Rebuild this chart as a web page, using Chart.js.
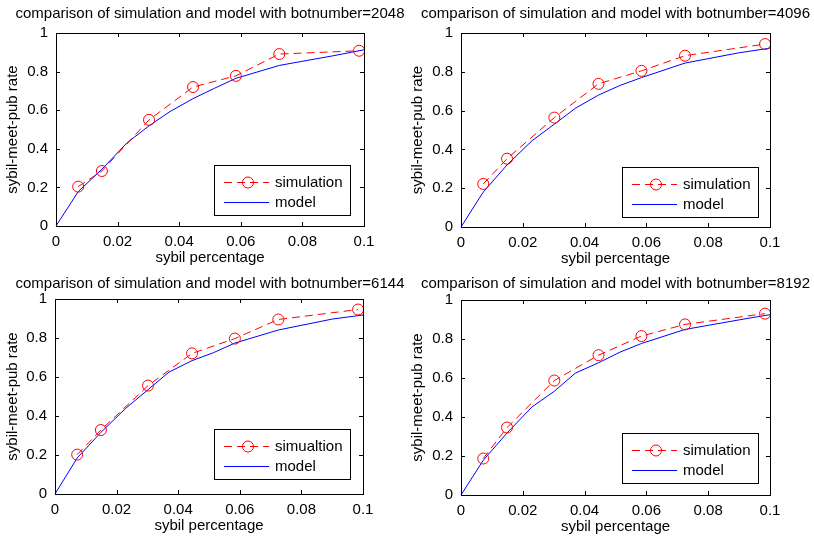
<!DOCTYPE html>
<html>
<head>
<meta charset="utf-8">
<script src="https://cdn.jsdelivr.net/npm/chart.js@4.4.1/dist/chart.umd.min.js"></script>
<style>
  body { margin: 0; background: #fff; }
  #wrap { position: relative; width: 814px; height: 536px; overflow: hidden; background: #fff; }
  #wrap canvas { position: absolute; }
</style>
</head>
<body>
<div id="wrap">
  <canvas id="c2048" width="420" height="268" style="left:0;top:0"></canvas>
  <canvas id="c4096" width="421" height="268" style="left:405px;top:0"></canvas>
  <canvas id="c6144" width="420" height="270" style="left:0;top:266px"></canvas>
  <canvas id="c8192" width="421" height="270" style="left:405px;top:266px"></canvas>
</div>
<script>
// axis ticks
const xTicks = [0, 0.02, 0.04, 0.06, 0.08, 0.1];
const xTickLabels = ['0', '0.02', '0.04', '0.06', '0.08', '0.1'];
const yTicks = [0, 0.2, 0.4, 0.6, 0.8, 1];
const yTickLabels = ['0', '0.2', '0.4', '0.6', '0.8', '1'];

// simulation runs (circles)
const simX = [0.0072, 0.0149, 0.0302, 0.0445, 0.0584, 0.0725, 0.0984];
const sim2048 = [0.204, 0.285, 0.550, 0.720, 0.778, 0.891, 0.908];
const sim4096 = [0.222, 0.352, 0.564, 0.738, 0.805, 0.883, 0.943];
const sim6144 = [0.202, 0.328, 0.556, 0.721, 0.797, 0.895, 0.946];
const sim8192 = [0.187, 0.346, 0.587, 0.717, 0.815, 0.875, 0.930];

// analytic model
const modelX = [0, 0.0072, 0.0149, 0.023, 0.0302, 0.037, 0.0445, 0.0515, 0.0584, 0.0725, 0.09, 0.1];
const model2048 = [0, 0.178, 0.294, 0.430, 0.519, 0.593, 0.660, 0.714, 0.765, 0.832, 0.882, 0.913];
const model4096 = [0, 0.180, 0.320, 0.445, 0.530, 0.612, 0.680, 0.730, 0.770, 0.845, 0.898, 0.922];
const model6144 = [0, 0.185, 0.316, 0.440, 0.535, 0.625, 0.684, 0.725, 0.774, 0.841, 0.897, 0.918];
const model8192 = [0, 0.178, 0.318, 0.452, 0.532, 0.625, 0.678, 0.733, 0.777, 0.849, 0.898, 0.925];

const botNumbers = [2048, 4096, 6144, 8192];
const simNames = ['simulation', 'simulation', 'simualtion', 'simulation'];
const simSeries = [sim2048, sim4096, sim6144, sim8192];
const modelSeries = [model2048, model4096, model6144, model8192];

Chart.defaults.font.family = '"Liberation Sans", Arial, Helvetica, sans-serif';
Chart.defaults.font.size = 15;
Chart.defaults.color = '#000';

const FONT = '15px "Liberation Sans", Arial, Helvetica, sans-serif';

// box around the axes with inward tick marks on all four sides
const frame = {
  id: 'frame',
  afterDatasetsDraw(chart) {
    const {ctx, chartArea: a, scales: {x, y}} = chart;
    const len = 4;
    ctx.save();
    ctx.strokeStyle = '#000';
    ctx.lineWidth = 1;
    ctx.beginPath();
    x.ticks.forEach(t => {
      const px = Math.round(x.getPixelForValue(t.value)) + 0.5;
      ctx.moveTo(px, a.bottom); ctx.lineTo(px, a.bottom - len);
      ctx.moveTo(px, a.top); ctx.lineTo(px, a.top + len);
    });
    y.ticks.forEach(t => {
      const py = Math.round(y.getPixelForValue(t.value)) + 0.5;
      ctx.moveTo(a.left, py); ctx.lineTo(a.left + len, py);
      ctx.moveTo(a.right, py); ctx.lineTo(a.right - len, py);
    });
    ctx.stroke();
    ctx.strokeRect(Math.round(a.left) + 0.5, Math.round(a.top) + 0.5,
      Math.round(a.right - a.left), Math.round(a.bottom - a.top));
    ctx.restore();
  }
};

// matlab-style legend box in the lower right of the axes
const boxLegend = {
  id: 'boxLegend',
  afterDraw(chart, args, opts) {
    const {ctx, chartArea: a} = chart;
    const w = 136, h = 50;
    const x0 = Math.round(a.right - opts.right - w), y0 = Math.round(a.bottom - opts.bottom - h);
    ctx.save();
    ctx.fillStyle = '#fff';
    ctx.fillRect(x0, y0, w, h);
    ctx.strokeStyle = '#000';
    ctx.lineWidth = 1;
    ctx.strokeRect(x0 + 0.5, y0 + 0.5, w, h);
    chart.data.datasets.forEach((ds, i) => {
      const cy = y0 + 17.5 + i * 20;
      ctx.strokeStyle = ds.borderColor;
      ctx.lineWidth = ds.borderWidth;
      ctx.setLineDash(ds.borderDash || []);
      ctx.beginPath();
      ctx.moveTo(x0 + 10, cy);
      ctx.lineTo(x0 + 55, cy);
      ctx.stroke();
      ctx.setLineDash([]);
      if (ds.pointRadius) {
        ctx.beginPath();
        ctx.arc(x0 + 34, cy, ds.pointRadius, 0, Math.PI * 2);
        ctx.stroke();
      }
      ctx.fillStyle = '#000';
      ctx.font = FONT;
      ctx.textBaseline = 'middle';
      ctx.textAlign = 'left';
      ctx.fillText(ds.label, x0 + 61, cy);
    });
    ctx.restore();
  }
};

// where each plot box sits inside its canvas
const panels = [
  {id: 'c2048', w: 420, h: 268, left: 56, top: 33, right: 364, bottom: 226, titleY: 14, legRight: 14, legBottom: 11},
  {id: 'c4096', w: 421, h: 268, left: 56, top: 33, right: 365, bottom: 227, titleY: 14, legRight: 12, legBottom: 10},
  {id: 'c6144', w: 420, h: 270, left: 55, top: 33, right: 363, bottom: 228, titleY: 18, legRight: 13, legBottom: 15},
  {id: 'c8192', w: 421, h: 270, left: 56, top: 34, right: 365, bottom: 229, titleY: 18, legRight: 12, legBottom: 12}
];

panels.forEach((p, k) => {
  new Chart(document.getElementById(p.id), {
    type: 'line',
    data: {
      datasets: [{
        label: simNames[k],
        data: simX.map((v, i) => ({x: v, y: simSeries[k][i]})),
        borderColor: '#ff0000',
        borderWidth: 1,
        borderDash: [8, 5],
        pointRadius: 5.5,
        pointBorderColor: '#ff0000',
        pointBackgroundColor: 'rgba(0,0,0,0)',
        pointBorderWidth: 1,
        clip: false
      }, {
        label: 'model',
        data: modelX.map((v, i) => ({x: v, y: modelSeries[k][i]})),
        borderColor: '#0000ff',
        borderWidth: 1,
        pointRadius: 0,
        clip: false
      }]
    },
    options: {
      responsive: false,
      animation: false,
      events: [],
      layout: {padding: 0},
      plugins: {
        legend: {display: false},
        tooltip: {enabled: false},
        title: {
          display: true,
          text: 'comparison of simulation and model with botnumber=' + botNumbers[k],
          font: {size: 15, weight: 'normal'},
          color: '#000',
          padding: {top: p.titleY - 9, bottom: p.top - p.titleY - 9}
        },
        boxLegend: {right: p.legRight, bottom: p.legBottom}
      },
      scales: {
        x: {
          type: 'linear',
          min: 0, max: 0.1,
          grid: {display: false, drawTicks: false},
          border: {display: false},
          afterBuildTicks: s => { s.ticks = xTicks.map(v => ({value: v})); },
          afterFit: s => { s.height = p.h - p.bottom; },
          ticks: {padding: 7, maxRotation: 0, callback: (v, i) => xTickLabels[i]},
          title: {display: true, text: 'sybil percentage', padding: {top: 0, bottom: p.h - p.bottom - 41}}
        },
        y: {
          type: 'linear',
          min: 0, max: 1,
          grid: {display: false, drawTicks: false},
          border: {display: false},
          afterBuildTicks: s => { s.ticks = yTicks.map(v => ({value: v})); },
          afterFit: s => { s.width = p.left; },
          ticks: {padding: 8, callback: (v, i) => yTickLabels[i]},
          title: {display: true, text: 'sybil-meet-pub rate', padding: {top: 4, bottom: 0}}
        },
        // empty right margin so the title centres over the plot box
        yr: {
          type: 'linear',
          position: 'right',
          min: 0, max: 1,
          grid: {display: false, drawTicks: false},
          border: {display: false},
          ticks: {display: false},
          afterFit: s => { s.width = p.w - p.right; }
        }
      }
    },
    plugins: [frame, boxLegend]
  });
});
</script>
</body>
</html>
